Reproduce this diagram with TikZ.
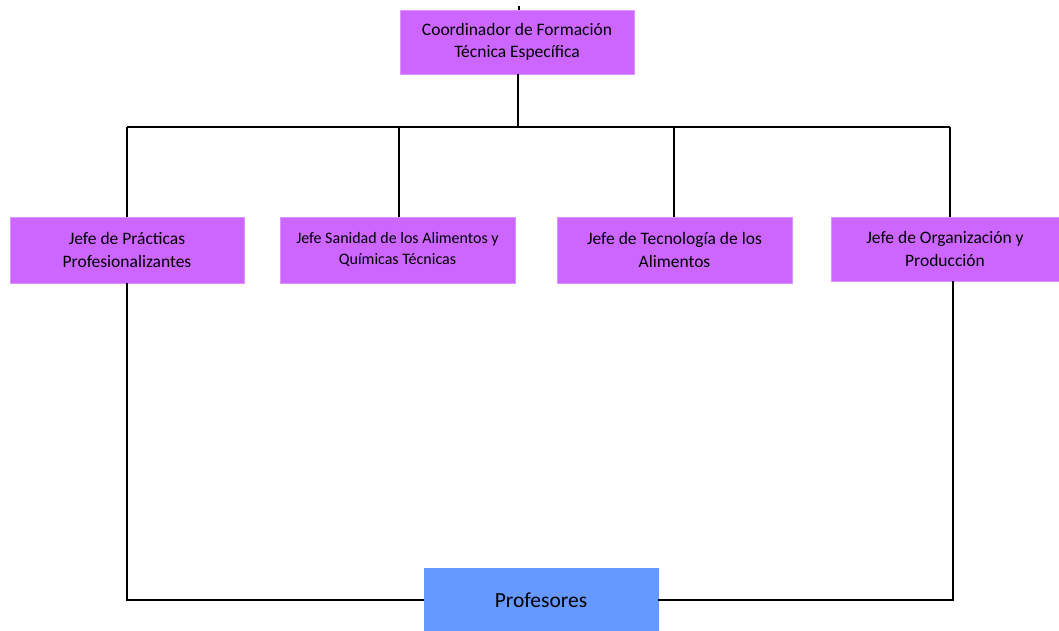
\documentclass[tikz,border=0pt]{standalone}
\usepackage{fontspec}
\setmainfont{Carlito}
\definecolor{jefe}{HTML}{CC66FF}
\definecolor{prof}{HTML}{6699FF}

\begin{document}
\begin{tikzpicture}[x=1pt, y=-1pt, line width=1.2pt,
  every node/.style={rectangle, fill=jefe, draw=jefe!70, line width=0.4pt, align=center, inner sep=0pt, font=\fontsize{17.5}{22.5}\selectfont}]
                \useasboundingbox (0,0) rectangle (1059,631);
                \node[minimum width=234pt, minimum height=64pt] (coord) at (517,42) {Coordinador de Formación\\Técnica Específica};
                \node[minimum width=234pt, minimum height=66pt] (j1) at (127,250) {Jefe de Prácticas\\Profesionalizantes};
                \node[minimum width=235pt, minimum height=66pt, font=\fontsize{16}{21}\selectfont] (j2) at (397.5,250) {Jefe Sanidad de los Alimentos y\\Químicas Técnicas};
                \node[minimum width=235pt, minimum height=66pt] (j3) at (674.5,250) {Jefe de Tecnología de los\\Alimentos};
                \node[minimum width=228pt, minimum height=64pt] (j4) at (945,249) {Jefe de Organización y\\Producción};
                \node[fill=prof, draw=prof, minimum width=234pt, minimum height=63pt, font=\fontsize{21.5}{24}\selectfont] (prof) at (541,600) {Profesores};
                \coordinate (tick) at (519,6);
                \coordinate (bus) at (518,127);
                \coordinate (b1) at (127,127);
                \coordinate (b2) at (399,127);
                \coordinate (b3) at (674,127);
                \coordinate (b4) at (950,127);
                \coordinate (d4) at (953,600);
                \draw (tick) -- (tick |- coord.north);
                \draw (coord.south -| bus) -- (bus);
                \draw (b1) -- (b4);
                \draw (b1) -- (b1 |- j1.north);
                \draw (b2) -- (b2 |- j2.north);
                \draw (b3) -- (b3 |- j3.north);
                \draw (b4) -- (b4 |- j4.north);
                \draw (j1.south) |- (prof.west);
                \draw (d4 |- j4.south) -- (d4) -- (prof.east);
\end{tikzpicture}
\end{document}
